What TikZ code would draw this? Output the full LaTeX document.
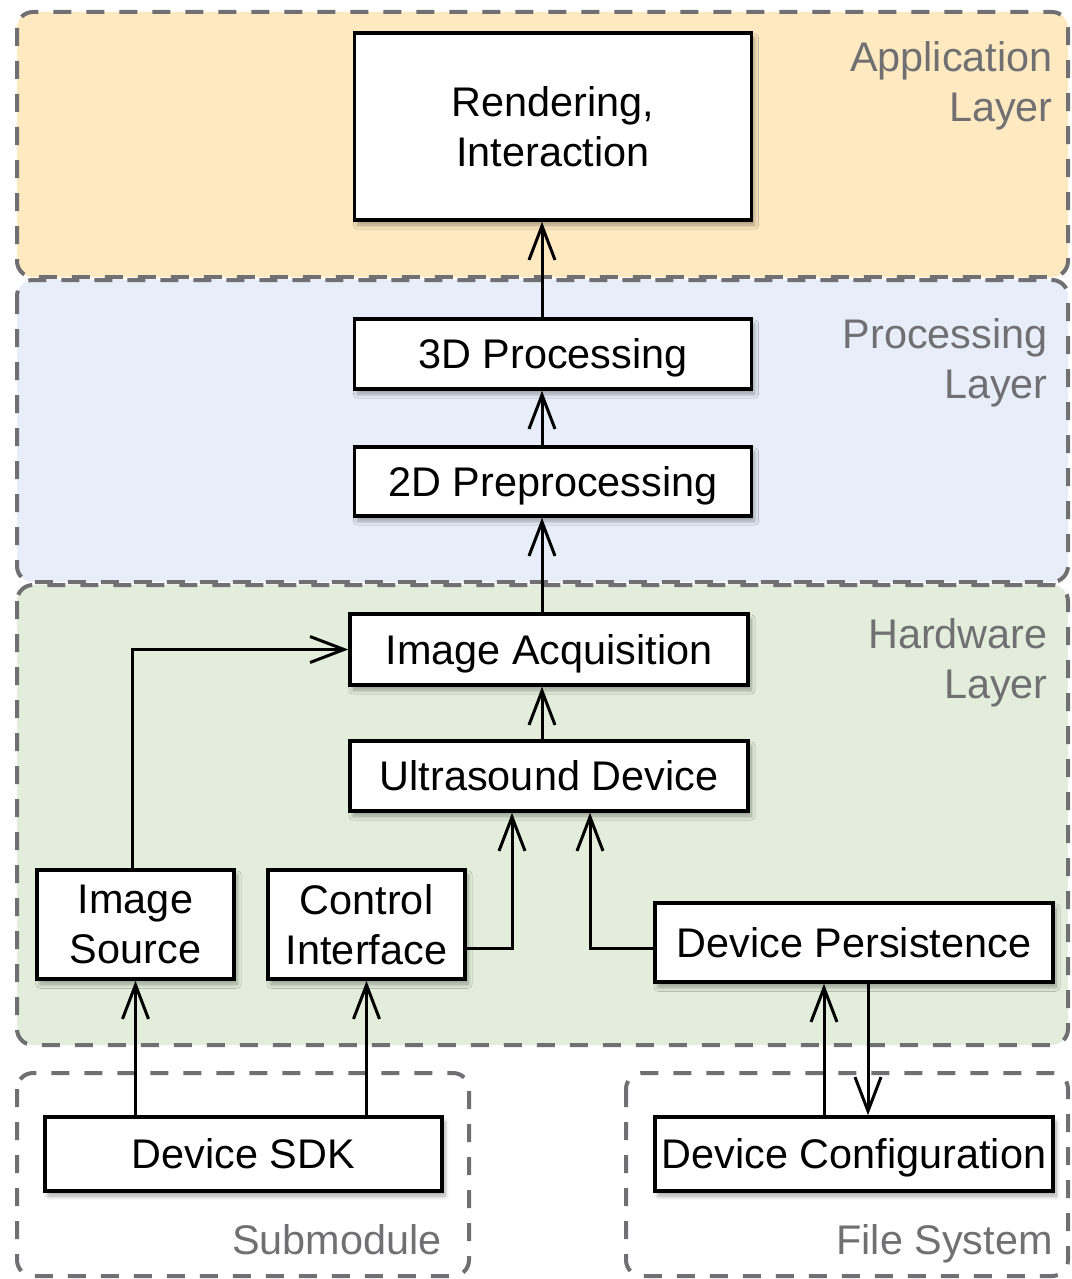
\documentclass[tikz,border=0pt]{standalone}
\usepackage{fontspec}
\setmainfont{Liberation Sans}
\usetikzlibrary{arrows.meta,shadows.blur}
\definecolor{appfill}{RGB}{254,233,192}
\definecolor{procfill}{RGB}{231,238,249}
\definecolor{hwfill}{RGB}{226,238,219}
\definecolor{framegray}{RGB}{112,112,114}
\tikzset{
    layer-box/.style = {draw=framegray, line width=2pt, dash pattern=on 9pt off 7.5pt, rounded corners=8pt},
    layer-title/.style = {text=framegray, align=right, inner sep=0pt},
    block/.style = {draw=black, fill=white, line width=1.75pt, inner sep=0pt, align=center,
        blur shadow={shadow xshift=1.5pt, shadow yshift=-2.5pt, shadow blur steps=8, shadow opacity=35}},
    one-line/.style = {text height=14.8pt, text depth=0pt},
    flow/.style = {-{Straight Barb[length=17pt, width=13pt]}, line width=1.5pt},
}

\begin{document}
\begin{tikzpicture}[x=0.5pt, y=-0.5pt, font=\fontsize{20.7pt}{25pt}\selectfont]
\useasboundingbox (0,0) rectangle (1071,1279);
% layers
\draw[layer-box, fill=appfill] (17,12) rectangle (1068,277);
\draw[layer-box, fill=procfill] (17,280) rectangle (1068,582);
\draw[layer-box, fill=hwfill] (17,585) rectangle (1068,1045);
\draw[layer-box] (17,1073) rectangle (469,1276);
\draw[layer-box] (626,1073) rectangle (1068,1276);
\node[layer-title, anchor=north east] (apptitle) at (1053,41) {Application\\Layer};
\node[layer-title, anchor=north east] (proctitle) at (1048,318) {Processing\\Layer};
\node[layer-title, anchor=north east] (hwtitle) at (1048,618) {Hardware\\Layer};
\node[layer-title, anchor=base east] (subtitle) at (442,1254) {Submodule};
\node[layer-title, anchor=base east] (fstitle) at (1053,1254) {File System};

% blocks
\node[block, minimum width=198.5pt, minimum height=93.5pt] (render) at (553,126.5) {Rendering,\\Interaction};
\node[block, one-line, minimum width=198.5pt, minimum height=35pt] (proc3d) at (553,354) {3D Processing};
\node[block, one-line, minimum width=198.5pt, minimum height=34.5pt] (prep2d) at (553,481.5) {2D Preprocessing};
\node[block, one-line, minimum width=199pt, minimum height=35.5pt] (imgacq) at (549,649.5) {Image Acquisition};
\node[block, one-line, minimum width=199pt, minimum height=35pt] (usdev) at (549,776) {Ultrasound Device};
\node[block, minimum width=98.5pt, minimum height=54.5pt] (imgsrc) at (135.5,924.5) {Image\\Source};
\node[block, minimum width=98.5pt, minimum height=54.5pt] (ctrl) at (366.5,924.5) {Control\\Interface};
\node[block, one-line, minimum width=199pt, minimum height=39.5pt] (persist) at (854,942.5) {Device Persistence};
\node[block, one-line, minimum width=198.5pt, minimum height=37pt] (sdk) at (243.5,1154) {Device SDK};
\node[block, one-line, minimum width=199pt, minimum height=37pt] (config) at (854,1154) {Device Configuration};

% connectors
\draw[flow] ([xshift=-5.5pt]proc3d.north) -- ([xshift=-5.5pt]render.south);
\draw[flow] ([xshift=-5.5pt]prep2d.north) -- ([xshift=-5.5pt]proc3d.south);
\draw[flow] ([xshift=-3.5pt]imgacq.north) -- ([xshift=-5.5pt]prep2d.south);
\draw[flow] ([xshift=-3.5pt]usdev.north) -- ([xshift=-3.5pt]imgacq.south);
\draw[flow] ([xshift=-1.5pt]imgsrc.north) |- (imgacq.west);
\draw[flow] ([yshift=-12pt]ctrl.east) -| ([xshift=-18.5pt]usdev.south);
\draw[flow] ([yshift=-2.75pt]persist.west) -| ([xshift=20.5pt]usdev.south);
\draw[flow] (sdk.north -| imgsrc.south) -- (imgsrc.south);
\draw[flow] (sdk.north -| ctrl.south) -- (ctrl.south);
\draw[flow] ([xshift=-15pt]config.north) -- ([xshift=-15pt]persist.south);
\draw[flow] ([xshift=7pt]persist.south) -- ([xshift=7pt]config.north);
\end{tikzpicture}
\end{document}
